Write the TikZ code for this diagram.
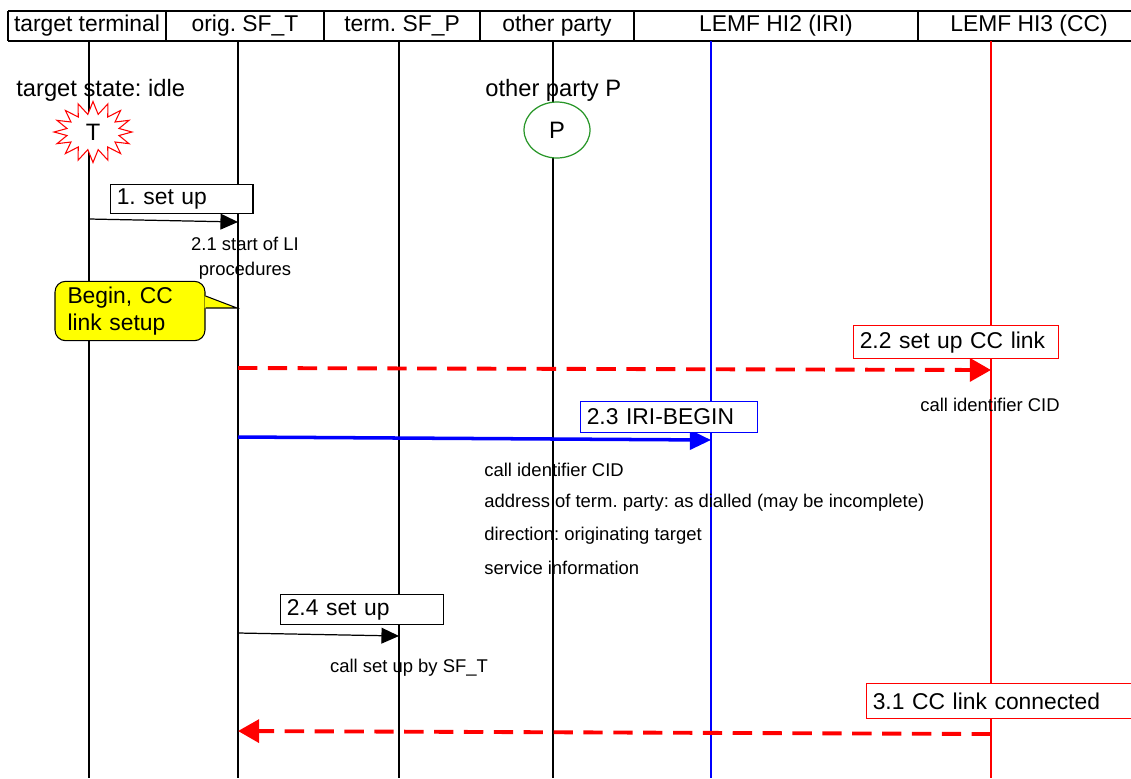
\documentclass[tikz,border=0pt]{standalone}
\usepackage{fontspec}
\setmainfont{Liberation Sans}
\frenchspacing
\usepackage{xcolor}
\usepackage{tikz}
\usetikzlibrary{shapes,shapes.symbols,shapes.callouts,arrows.meta,positioning,calc}
\definecolor{lired}{RGB}{255,0,0}
\definecolor{liblue}{RGB}{0,0,255}
\definecolor{ligreen}{RGB}{40,150,40}
\definecolor{liyellow}{RGB}{255,255,0}
\tikzset{
    hdrtext/.style={
        font=\fontsize{13}{15}\selectfont
    },
    bigtext/.style={
        font=\fontsize{13.5}{16}\selectfont,
        inner sep=0pt
    },
    smalltext/.style={
        font=\fontsize{10.5}{14}\selectfont,
        inner sep=0pt
    },
    lifeline/.style={
        line width=0.6pt
    },
    msgbox/.style={
        rectangle,
        draw=#1,
        fill=white,
        anchor=north west,
        align=left,
        inner xsep=3.5pt,
        inner ysep=0pt,
        line width=0.7pt,
        font=\fontsize{13}{15}\selectfont
    },
    msg/.style={
        -{Triangle[length=10pt,width=9pt]},
        line width=0.7pt
    },
    ccmsg/.style={
        -{Triangle[length=12pt,width=13pt]},
        draw=lired,
        line width=2.2pt,
        dash pattern=on 11pt off 6pt
    },
    irimsg/.style={
        -{Triangle[length=12pt,width=11pt]},
        draw=liblue,
        line width=2pt
    }
}

\begin{document}
\begin{tikzpicture}[x=0.02cm, y=-0.02cm]
\useasboundingbox (0,0) rectangle (1131,778);

% header
\draw[line width=1.1pt] (8,11) -- (1140,11);
\draw[line width=1.1pt] (8,41) -- (1140,41);
\foreach \x in {8,166,324,480,634,918}
    \draw[line width=1.1pt] (\x,11) -- (\x,41);
\node[hdrtext] (hdr-tt) at (87,26) {target terminal};
\node[hdrtext] (hdr-sft) at (245,26) {orig. SF\_T};
\node[hdrtext] (hdr-sfp) at (402,26) {term. SF\_P};
\node[hdrtext] (hdr-op) at (557,26) {other party};
\node[hdrtext] (hdr-hi2) at (776,26) {LEMF HI2 (IRI)};
\node[hdrtext] (hdr-hi3) at (1029,26) {LEMF HI3 (CC)};

% lifelines
\foreach \x/\n/\c in {89/tt/black, 238/sft/black, 399/sfp/black, 553/op/black, 711/hi2/liblue, 991/hi3/lired} {
    \coordinate (\n-top) at (\x,41);
    \coordinate (\n-bot) at (\x,778);
    \draw[lifeline, draw=\c] (\n-top) -- (\n-bot);
}

% states
\node[bigtext, anchor=west] (state-t) at (16,90) {target state: idle};
\node[starburst, draw=lired, fill=white, line width=0.6pt, starburst points=16,
      starburst point height=0.25cm, random starburst=0,
      minimum width=1.56cm, minimum height=1.22cm, inner sep=0pt,
      font=\fontsize{13.5}{16}\selectfont] (target) at (93,132) {T};
\node[bigtext, anchor=west] (state-p) at (485,90) {other party P};
\node[ellipse, draw=ligreen, fill=white, line width=0.7pt,
      minimum width=1.32cm, minimum height=1.12cm,
      font=\fontsize{13.5}{16}\selectfont] (party) at (557,130) {P};

% 1. set up
\coordinate (m1-a) at (89,219);
\coordinate (m1-b) at (238,222);
\draw[msg] (m1-a) -- (m1-b);
\node[msgbox=black, minimum height=0.58cm, text width=2.6cm] (lbl-1) at (110,184) {1. set up};
\node[smalltext, align=center] (li-start) at (245,258) {2.1 start of LI\\procedures};

% callout
\coordinate (cb-tip) at (237,308);
\node[draw, fill=liyellow, rounded corners=6pt, line width=0.6pt,
      text width=2.5cm, inner xsep=0.25cm, minimum height=1.14cm, align=left,
      font=\fontsize{13}{15}\selectfont] (note-begin) at (130,311) {Begin, CC\\link setup};
\fill[liyellow] ($(note-begin.east)+(-1,-15)$) -- (cb-tip) -- ($(note-begin.east)+(-1,-3)$) -- cycle;
\draw[line width=0.6pt] ($(note-begin.east)+(0,-15)$) -- (cb-tip) -- ($(note-begin.east)+(0,-3)$);

% 2.2 set up CC link
\coordinate (m22-a) at (238,368);
\coordinate (m22-b) at (991,370);
\draw[ccmsg] (m22-a) -- (m22-b);
\node[msgbox=lired, minimum height=0.66cm, text width=3.85cm] (lbl-22) at (853,325) {2.2 set up CC link};
\node[smalltext] (cid-cc) at (990,405) {call identifier CID};

% 2.3 IRI-BEGIN
\coordinate (m23-a) at (238,437);
\coordinate (m23-b) at (711,440);
\draw[irimsg] (m23-a) -- (m23-b);
\node[msgbox=liblue, minimum height=0.62cm, text width=3.29cm] (lbl-23) at (580,401) {2.3 IRI-BEGIN};
\node[smalltext, anchor=west] (iri-1) at (484,470) {call identifier CID};
\node[smalltext, anchor=west] (iri-2) at (484,503) {address of term. party: as dialled (may be incomplete)};
\node[smalltext, anchor=west] (iri-3) at (484,536) {direction: originating target};
\node[smalltext, anchor=west] (iri-4) at (484,568) {service information};

% 2.4 set up
\coordinate (m24-a) at (238,633);
\coordinate (m24-b) at (399,636);
\draw[msg] (m24-a) -- (m24-b);
\node[msgbox=black, minimum height=0.60cm, text width=3.01cm] (lbl-24) at (280,594) {2.4 set up};
\node[smalltext] (cid-setup) at (409,668) {call set up by SF\_T};

% 3.1 CC link connected
\coordinate (m31-a) at (991,734);
\coordinate (m31-b) at (238,731);
\draw[ccmsg] (m31-a) -- (m31-b);
\node[msgbox=lired, minimum height=0.70cm, text width=5.6cm] (lbl-31) at (866,683) {3.1 CC link connected};
\end{tikzpicture}
\end{document}
